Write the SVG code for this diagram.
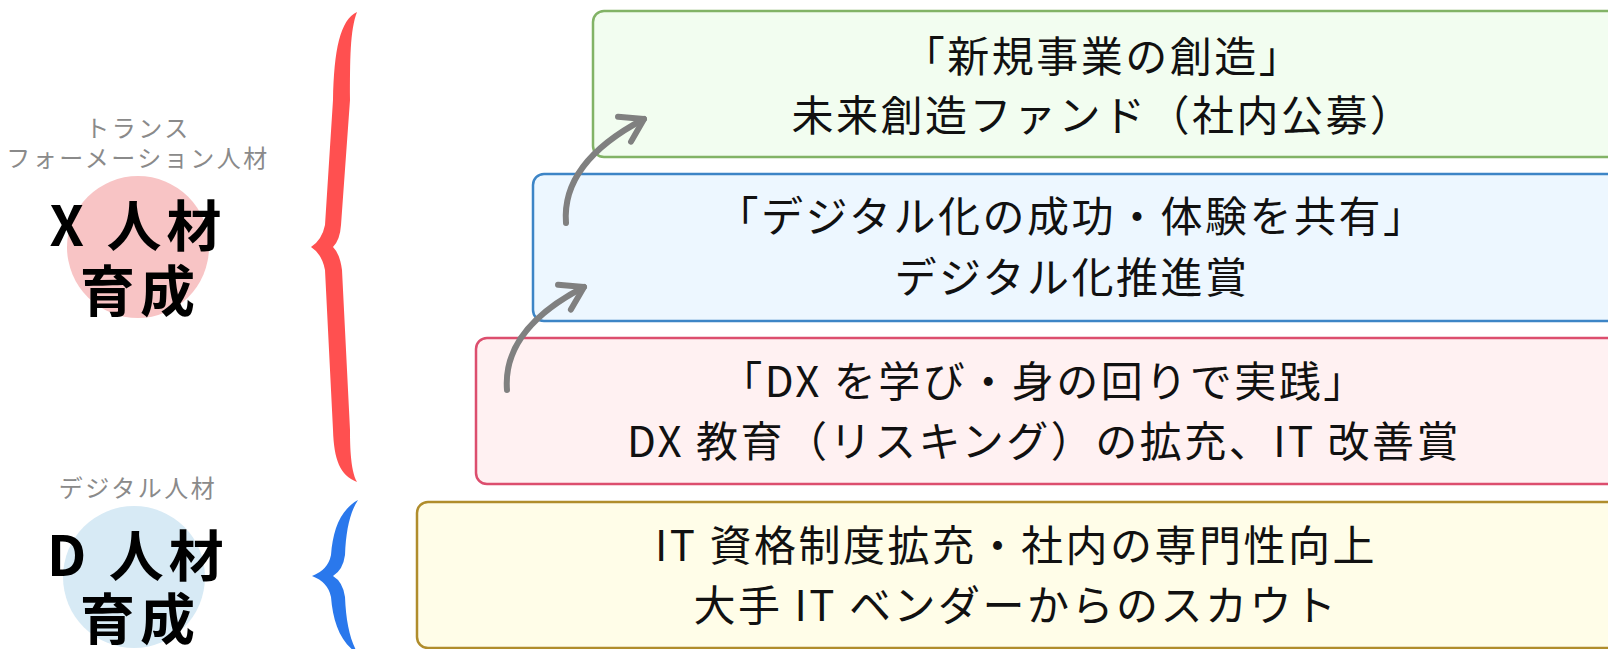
<svg xmlns="http://www.w3.org/2000/svg" width="1608" height="649" viewBox="0 0 1608 649">
<style>
.box{stroke-width:2.5}
.t{font-family:"Noto Sans CJK JP","Noto Sans",sans-serif;font-size:42px;letter-spacing:2.5px;text-anchor:middle;fill:#111}
.sub{font-family:"Noto Sans CJK JP","Noto Sans",sans-serif;font-size:24px;letter-spacing:2.5px;text-anchor:middle;fill:#8a8a8a}
.big{font-family:"Noto Sans CJK JP","Noto Sans",sans-serif;font-size:55px;font-weight:700;letter-spacing:5px;text-anchor:middle;fill:#000}
.arr{fill:none;stroke:#808080;stroke-width:6;stroke-linecap:round}
</style>
<defs>
<marker id="ah" markerUnits="userSpaceOnUse" viewBox="-30 -20 36 40" markerWidth="36" markerHeight="40" refX="0" refY="0" orient="auto">
<path d="M-22,-14 L0,0 L-22,14" fill="none" stroke="#808080" stroke-width="6" stroke-linecap="round" stroke-linejoin="round"/>
</marker>
</defs>
<rect width="1608" height="649" fill="#ffffff"/>

<g id="x-label">
<circle cx="138" cy="247" r="71" fill="#f8c4c5"/>
<text class="sub" x="138" y="137">トランス</text>
<text class="sub" x="138" y="167">フォーメーション人材</text>
<text class="big" x="138" y="246">X 人材</text>
<text class="big" x="140" y="311">育成</text>
</g>

<g id="d-label">
<circle cx="134" cy="577" r="71" fill="#d7eaf5"/>
<text class="sub" x="138" y="497">デジタル人材</text>
<text class="big" x="138" y="576">D 人材</text>
<text class="big" x="140" y="639">育成</text>
</g>

<g id="brace-x">
<path d="M357,12 C340,20 334,50 333,100 L325,225 Q322,240 311,247 Q322,254 325,270 L333,430 C334,460 340,475 357,482 C350,470 350,440 350,430 L342,270 Q340,254 333,247 Q340,240 341,225 L350,100 C350,60 350,30 357,12 Z" fill="#ff5050"/>
</g>
<g id="brace-d">
<path d="M358,500 C340,510 333,530 331,555 Q328,570 312,576 Q328,582 331,597 C333,622 340,642 358,654 C350,640 346,622 345,597 Q343,582 333,576 Q343,570 345,555 C346,530 350,512 358,500 Z" fill="#2a78ec"/>
</g>

<g id="box-new">
<rect class="box" x="593" y="11" width="1030" height="146" rx="11" fill="#f2fdf0" stroke="#82b366"/>
<text class="t" x="1103" y="72">「新規事業の創造」</text>
<text class="t" x="1103" y="131">未来創造ファンド（社内公募）</text>
</g>
<g id="box-share">
<rect class="box" x="533" y="174" width="1090" height="147" rx="11" fill="#edf7ff" stroke="#3d85c6"/>
<text class="t" x="1072" y="232">「デジタル化の成功・体験を共有」</text>
<text class="t" x="1072" y="293">デジタル化推進賞</text>
</g>
<g id="box-learn">
<rect class="box" x="476" y="338" width="1150" height="146" rx="11" fill="#fff1f2" stroke="#dc4e6e"/>
<text class="t" x="1044" y="397">「DX を学び・身の回りで実践」</text>
<text class="t" x="1044" y="457">DX 教育（リスキング）の拡充、IT 改善賞</text>
</g>
<g id="box-it">
<rect class="box" x="417" y="502" width="1210" height="146" rx="11" fill="#fffde8" stroke="#b08d2c"/>
<text class="t" x="1016" y="561">IT 資格制度拡充・社内の専門性向上</text>
<text class="t" x="1016" y="621">大手 IT ベンダーからのスカウト</text>
</g>

<g id="connectors">
<path class="arr" d="M507,390 C504,352 526,317 584,287" marker-end="url(#ah)"/>
<path class="arr" d="M566,223 C563,185 585,150 644,119" marker-end="url(#ah)"/>
</g>
</svg>
